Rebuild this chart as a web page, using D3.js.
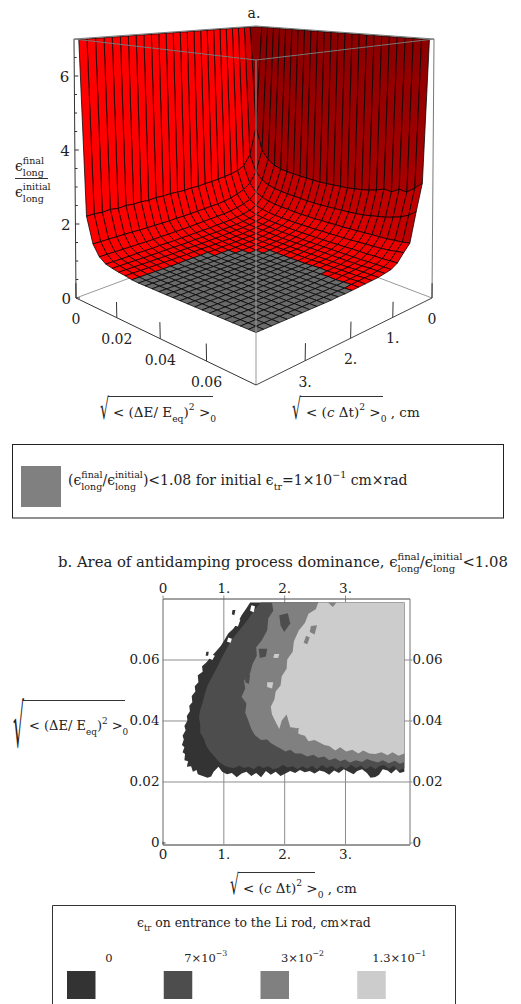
<!DOCTYPE html>
<html>
<head>
<meta charset="utf-8">
<script src="https://cdn.jsdelivr.net/npm/d3@7"></script>
<style>
  html, body { margin: 0; padding: 0; background: #fff; overflow: hidden; }
  svg { display: block; }
  text { font-family: "DejaVu Serif", serif; fill: #222; white-space: pre; }
</style>
</head>
<body>
<div id="chart"></div>
<script>
// ----- panel a: surface heights on the ct / dE mesh -----
const ctGrid = [0.135,0.29,0.445,0.6,0.755,0.91,1.065,1.22,1.375,1.53,1.685,1.84,1.995,2.15,2.305,2.46,2.615,2.77,2.925,3.08,3.235,3.39,3.545,3.7,3.855,4];
const dEGrid = [0.0027,0.0058,0.0089,0.012,0.0151,0.0182,0.0213,0.0244,0.0275,0.0306,0.0337,0.0368,0.0399,0.043,0.0461,0.0492,0.0523,0.0554,0.0585,0.0616,0.0647,0.0678,0.0709,0.074,0.0771,0.08];
const ratioRows = [
  [7,7,7,7,7,7,7,7,7,7,7,7,7,7,7,7,7,7,7,7,7,7,7,7,7,7],
  [7,3.7,3,2.75,2.62,2.56,2.53,2.52,2.5,2.5,2.49,2.49,2.5,2.51,2.53,2.54,2.57,2.6,2.64,2.7,2.78,2.76,2.88,2.86,3.02,3.2],
  [7,2.85,2.35,2.15,2.05,2,1.97,1.95,1.94,1.93,1.92,1.92,1.92,1.93,1.94,1.95,1.96,1.98,2,2.04,2.08,2.12,2.18,2.25,2.35,2.5],
  [7,2.55,2.05,1.82,1.72,1.66,1.63,1.61,1.6,1.59,1.58,1.58,1.58,1.59,1.59,1.6,1.6,1.61,1.62,1.63,1.64,1.65,1.66,1.68,1.7,1.73],
  [7,2.45,1.9,1.65,1.53,1.47,1.44,1.42,1.41,1.4,1.4,1.4,1.4,1.4,1.41,1.41,1.42,1.42,1.43,1.44,1.45,1.46,1.47,1.49,1.52,1.55],
  [7,2.4,1.82,1.57,1.44,1.38,1.35,1.33,1.32,1.31,1.3,1.3,1.3,1.3,1.3,1.3,1.3,1.31,1.31,1.32,1.32,1.32,1.33,1.33,1.34,1.35],
  [7,2.37,1.76,1.52,1.39,1.33,1.3,1.28,1.27,1.26,1.25,1.25,1.25,1.24,1.24,1.24,1.24,1.24,1.24,1.24,1.24,1.24,1.25,1.25,1.25,1.25],
  [7,2.35,1.72,1.48,1.36,1.3,1.27,1.25,1.24,1.23,1.22,1.21,1.21,1.21,1.21,1.21,1.21,1.21,1.21,1.21,1.21,1.21,1.21,1.22,1.22,1.22],
  [7,2.33,1.7,1.46,1.34,1.28,1.25,1.23,1.21,1.2,1.19,1.19,1.19,1.18,1.18,1.18,1.18,1.18,1.18,1.18,1.18,1.18,1.19,1.19,1.19,1.19],
  [7,2.32,1.69,1.45,1.33,1.27,1.24,1.21,1.2,1.19,1.18,1.17,1.17,1.17,1.17,1.16,1.16,1.16,1.17,1.17,1.17,1.17,1.17,1.17,1.18,1.18],
  [7,2.3,1.68,1.44,1.32,1.26,1.23,1.2,1.19,1.18,1.17,1.16,1.15,1.14,1.14,1.14,1.14,1.14,1.15,1.16,1.15,1.16,1.17,1.16,1.17,1.17],
  [7,2.31,1.67,1.43,1.31,1.25,1.22,1.19,1.18,1.17,1.16,1.15,1.14,1.14,1.14,1.13,1.14,1.13,1.14,1.14,1.14,1.15,1.14,1.15,1.16,1.16],
  [7,2.29,1.66,1.42,1.3,1.25,1.21,1.19,1.17,1.16,1.15,1.14,1.14,1.13,1.13,1.13,1.13,1.13,1.13,1.14,1.13,1.14,1.13,1.14,1.14,1.15],
  [7,2.3,1.65,1.41,1.3,1.24,1.21,1.18,1.17,1.15,1.14,1.14,1.13,1.13,1.13,1.13,1.13,1.13,1.13,1.13,1.13,1.13,1.13,1.13,1.14,1.14],
  [7,2.31,1.65,1.4,1.29,1.24,1.2,1.18,1.16,1.15,1.14,1.13,1.13,1.13,1.13,1.13,1.13,1.13,1.13,1.13,1.13,1.13,1.13,1.13,1.13,1.14],
  [7,2.3,1.64,1.4,1.29,1.23,1.2,1.18,1.16,1.14,1.13,1.13,1.13,1.13,1.13,1.13,1.13,1.13,1.13,1.13,1.13,1.13,1.13,1.13,1.13,1.13],
  [7,2.31,1.64,1.39,1.28,1.23,1.2,1.18,1.15,1.14,1.13,1.13,1.13,1.13,1.13,1.13,1.13,1.13,1.13,1.13,1.13,1.13,1.13,1.13,1.13,1.13],
  [7,2.29,1.64,1.39,1.28,1.23,1.2,1.17,1.15,1.13,1.13,1.13,1.13,1.13,1.13,1.13,1.13,1.13,1.13,1.13,1.13,1.13,1.13,1.13,1.13,1.13],
  [7,2.31,1.64,1.38,1.28,1.23,1.19,1.17,1.15,1.13,1.13,1.13,1.13,1.13,1.13,1.13,1.13,1.13,1.13,1.13,1.13,1.13,1.13,1.13,1.13,1.13],
  [7,2.3,1.64,1.38,1.27,1.22,1.19,1.17,1.14,1.13,1.13,1.13,1.13,1.13,1.13,1.13,1.13,1.13,1.13,1.13,1.13,1.13,1.13,1.13,1.13,1.13],
  [7,2.32,1.65,1.38,1.27,1.22,1.19,1.17,1.14,1.13,1.13,1.13,1.13,1.13,1.13,1.13,1.13,1.13,1.13,1.13,1.13,1.13,1.13,1.13,1.13,1.13],
  [7,2.3,1.65,1.38,1.27,1.22,1.19,1.17,1.14,1.13,1.13,1.13,1.13,1.13,1.13,1.13,1.13,1.13,1.13,1.13,1.13,1.13,1.13,1.13,1.13,1.13],
  [7,2.33,1.65,1.38,1.26,1.22,1.19,1.17,1.14,1.13,1.13,1.13,1.13,1.13,1.13,1.13,1.13,1.13,1.13,1.13,1.13,1.13,1.13,1.13,1.13,1.13],
  [7,2.31,1.65,1.38,1.26,1.22,1.19,1.17,1.14,1.13,1.13,1.13,1.13,1.13,1.13,1.13,1.13,1.13,1.13,1.13,1.13,1.13,1.13,1.13,1.13,1.13],
  [7,2.33,1.65,1.38,1.26,1.22,1.19,1.17,1.14,1.13,1.13,1.13,1.13,1.13,1.13,1.13,1.13,1.13,1.13,1.13,1.13,1.13,1.13,1.13,1.13,1.13],
  [7,2.32,1.65,1.38,1.26,1.22,1.19,1.17,1.14,1.13,1.13,1.13,1.13,1.13,1.13,1.13,1.13,1.13,1.13,1.13,1.13,1.13,1.13,1.13,1.13,1.13]
];
const greyBelow = 1.15;
const zTicks = [0,0.5,1,1.5,2,2.5,3,3.5,4,4.5,5,5.5,6,6.5];
const zLabels = [0,2,4,6];
const dETicks3d = [0,0.02,0.04,0.06];
const ctTicks3d = [0,1,2,3];

// ----- panel b: outlines of the areas, [ct, dE], one per emittance -----
const area0 = [[1.44,0.0787],[3.975,0.0787],[3.975,0.0232],[3.9,0.0228],[3.84,0.024],[3.76,0.0226],[3.7,0.0236],[3.62,0.024],[3.56,0.0222],[3.5,0.0215],[3.42,0.0212],[3.36,0.0228],[3.28,0.024],[3.2,0.0234],[3.14,0.0224],[3.06,0.0232],[2.98,0.024],[2.9,0.0228],[2.82,0.0236],[2.74,0.0222],[2.66,0.0232],[2.58,0.0236],[2.5,0.0226],[2.42,0.0234],[2.34,0.023],[2.26,0.0238],[2.18,0.0228],[2.1,0.0234],[2.02,0.0226],[1.94,0.0218],[1.86,0.0232],[1.78,0.0222],[1.7,0.0234],[1.62,0.0214],[1.54,0.0228],[1.46,0.0218],[1.38,0.0232],[1.3,0.0226],[1.22,0.0214],[1.14,0.0228],[1.06,0.0224],[0.98,0.0232],[0.92,0.0248],[0.84,0.0232],[0.8,0.0216],[0.74,0.0212],[0.66,0.0218],[0.58,0.0224],[0.56,0.0238],[0.5,0.0232],[0.47,0.025],[0.4,0.0248],[0.42,0.0266],[0.36,0.027],[0.37,0.029],[0.33,0.0296],[0.36,0.0312],[0.32,0.032],[0.35,0.0338],[0.33,0.035],[0.38,0.0368],[0.36,0.0382],[0.41,0.04],[0.4,0.0415],[0.45,0.043],[0.44,0.0448],[0.49,0.046],[0.48,0.048],[0.54,0.0495],[0.53,0.0512],[0.59,0.0525],[0.58,0.0548],[0.66,0.056],[0.65,0.0578],[0.72,0.059],[0.78,0.0605],[0.86,0.0622],[0.96,0.0645],[1.02,0.0665],[1.08,0.0685],[1.16,0.07],[1.24,0.0722],[1.3,0.0745],[1.38,0.0768]];
const area1 = [[1.62,0.0787],[3.975,0.0787],[3.975,0.0244],[3.88,0.0236],[3.8,0.0252],[3.72,0.0242],[3.64,0.0254],[3.56,0.025],[3.5,0.024],[3.42,0.025],[3.34,0.024],[3.26,0.0252],[3.18,0.0244],[3.1,0.0254],[3.02,0.0242],[2.94,0.025],[2.86,0.024],[2.78,0.0252],[2.7,0.0244],[2.62,0.0254],[2.54,0.024],[2.46,0.0252],[2.38,0.0242],[2.3,0.025],[2.22,0.024],[2.14,0.025],[2.06,0.0246],[1.98,0.0254],[1.9,0.0244],[1.82,0.024],[1.74,0.025],[1.66,0.0244],[1.58,0.0252],[1.5,0.024],[1.42,0.0248],[1.34,0.0244],[1.26,0.0252],[1.18,0.0244],[1.1,0.0246],[1.02,0.0252],[0.94,0.0262],[0.86,0.028],[0.78,0.0298],[0.72,0.0316],[0.68,0.034],[0.62,0.036],[0.62,0.0385],[0.6,0.041],[0.62,0.0435],[0.66,0.046],[0.7,0.049],[0.74,0.0515],[0.82,0.0545],[0.9,0.0575],[0.96,0.06],[1.04,0.063],[1.12,0.066],[1.2,0.068],[1.32,0.071],[1.42,0.0735],[1.5,0.076]];
const area2 = [[1.8,0.0787],[3.975,0.0787],[3.975,0.0264],[3.9,0.0258],[3.82,0.0268],[3.72,0.026],[3.62,0.027],[3.54,0.0262],[3.44,0.0268],[3.36,0.0274],[3.28,0.0264],[3.18,0.027],[3.08,0.0262],[3,0.0272],[2.92,0.0266],[2.84,0.0276],[2.74,0.027],[2.66,0.0282],[2.56,0.0278],[2.48,0.0288],[2.38,0.0282],[2.28,0.0292],[2.18,0.0292],[2.1,0.0304],[2.02,0.0298],[1.94,0.0308],[1.86,0.0316],[1.78,0.0326],[1.72,0.0338],[1.62,0.0336],[1.52,0.0352],[1.46,0.0372],[1.41,0.04],[1.36,0.0425],[1.38,0.0456],[1.3,0.0478],[1.36,0.0505],[1.34,0.053],[1.44,0.0555],[1.48,0.0585],[1.55,0.0612],[1.54,0.064],[1.63,0.0662],[1.72,0.0695],[1.74,0.0735],[1.82,0.076]];
const area3 = [[2.56,0.0787],[3.975,0.0787],[3.975,0.0292],[3.88,0.0284],[3.78,0.0296],[3.7,0.0286],[3.6,0.0296],[3.5,0.029],[3.4,0.0292],[3.3,0.0302],[3.22,0.0292],[3.12,0.0304],[3.02,0.0298],[2.92,0.0312],[2.84,0.0302],[2.74,0.0316],[2.66,0.032],[2.58,0.0328],[2.5,0.0336],[2.4,0.0332],[2.34,0.035],[2.24,0.0356],[2.18,0.0376],[2.1,0.0378],[2.04,0.042],[1.96,0.04],[1.92,0.0372],[1.86,0.0395],[1.8,0.042],[1.78,0.0445],[1.84,0.047],[1.86,0.0495],[1.94,0.0515],[1.96,0.0545],[2.04,0.057],[2.05,0.06],[2.14,0.0625],[2.16,0.066],[2.24,0.0695],[2.34,0.072],[2.4,0.075],[2.52,0.0765]];
// little islands inside the areas, level is an index into areaColors (-1 is white)
const islands = [
  {level:-1, pts:[[1.46,0.0778],[1.52,0.0775],[1.5,0.0755],[1.44,0.076]]},
  {level:-1, pts:[[1.2,0.0735],[1.28,0.073],[1.24,0.0708],[1.16,0.0712]]},
  {level:-1, pts:[[1.08,0.0672],[1.14,0.0668],[1.12,0.0655],[1.06,0.0658]]},
  {level:-1, pts:[[0.78,0.062],[0.86,0.0612],[0.82,0.0598],[0.76,0.0604]]},
  {level:0, pts:[[1.15,0.0762],[1.2,0.0762],[1.18,0.0745],[1.14,0.0748]]},
  {level:0, pts:[[0.72,0.0625],[0.76,0.0625],[0.75,0.0612],[0.71,0.0612]]},
  {level:1, pts:[[1.92,0.0745],[2.06,0.0752],[2.1,0.0718],[2,0.069],[1.94,0.0712]]},
  {level:1, pts:[[1.58,0.0635],[1.72,0.0635],[1.7,0.061],[1.6,0.0605]]},
  {level:1, pts:[[1.36,0.0555],[1.44,0.055],[1.42,0.052],[1.36,0.0525]]},
  {level:2, pts:[[2.44,0.071],[2.54,0.0712],[2.5,0.0682],[2.42,0.069]]},
  {level:2, pts:[[2.36,0.0678],[2.42,0.0672],[2.38,0.065],[2.32,0.0655]]},
  {level:2, pts:[[2.72,0.0787],[2.86,0.0787],[2.8,0.0772]]},
  {level:3, pts:[[1.84,0.0618],[1.92,0.0618],[1.9,0.0605],[1.82,0.0606]]},
  {level:3, pts:[[1.72,0.0525],[1.82,0.0525],[1.8,0.0505],[1.72,0.051]]},
  {level:2, pts:[[2.14,0.0372],[2.24,0.0376],[2.22,0.0342],[2.14,0.0336]]}
];
const areaColors = ["#333333","#4d4d4d","#808080","#cccccc"];
const ctTicks2d = [0,1,2,3];
const dETicks2d = [0,0.02,0.04,0.06];
const legendLabels = ["0","7×10","3×10","1.3×10"];
const legendPowers = ["","−3","−2","−1"];

const width = 521, height = 1004;
const svg = d3.select("#chart").append("svg").attr("width", width).attr("height", height);
const defs = svg.append("defs");

// draws a row of plain, raised and stacked text runs, returns the width used
function mathText(parent, x, y, runs, size, anchor) {
  const g = parent.append("g");
  let cx = 0;
  const put = function (s, px, py, fs, italic) {
    const t = g.append("text").attr("x", px).attr("y", py).style("font-size", fs + "px").text(s);
    if (italic) t.style("font-style", "italic");
    return t.node().getComputedTextLength();
  };
  runs.forEach(function (r) {
    if (r.t !== undefined) cx += put(r.t, cx, 0, size, r.i);
    if (r.sup !== undefined || r.sub !== undefined) {
      let w = 0;
      if (r.sup !== undefined) w = Math.max(w, put(r.sup, cx, -size * 0.5, size * 0.68));
      if (r.sub !== undefined) w = Math.max(w, put(r.sub, cx, size * 0.36, size * 0.68));
      cx += w;
    }
  });
  const left = anchor === "middle" ? x - cx / 2 : x;
  g.attr("transform", "translate(" + left + "," + y + ")");
  return cx;
}

// radical sign squeezed to fit, its top right meets the bar
function rootBar(parent, xTop, yTop, h, w, xEnd) {
  const s = h / 0.83;
  const sx = w / (0.637 * s);
  parent.append("text")
    .attr("transform", "translate(" + (xTop - w + 0.5) + "," + (yTop + 0.78 * s) + ") scale(" + sx + ",1)")
    .style("font-size", s + "px").style("font-family", "DejaVu Sans").text("√");
  parent.append("line").attr("x1", xTop).attr("x2", xEnd).attr("y1", yTop).attr("y2", yTop).attr("stroke", "#333");
}

// ----- panel a -----
function quadMap(p) {
  // unit square to quad: p[0]=(0,0) p[1]=(1,0) p[2]=(1,1) p[3]=(0,1)
  const dx1 = p[1][0] - p[2][0], dx2 = p[3][0] - p[2][0], sx = p[0][0] - p[1][0] + p[2][0] - p[3][0];
  const dy1 = p[1][1] - p[2][1], dy2 = p[3][1] - p[2][1], sy = p[0][1] - p[1][1] + p[2][1] - p[3][1];
  const det = dx1 * dy2 - dx2 * dy1;
  const g = (sx * dy2 - dx2 * sy) / det, h = (dx1 * sy - sx * dy1) / det;
  const a = p[1][0] - p[0][0] + g * p[1][0], b = p[3][0] - p[0][0] + h * p[3][0], c = p[0][0];
  const d = p[1][1] - p[0][1] + g * p[1][1], e = p[3][1] - p[0][1] + h * p[3][1], f = p[0][1];
  return function (u, v) {
    const w = g * u + h * v + 1;
    return [(a * u + b * v + c) / w, (d * u + e * v + f) / w];
  };
}

const floorMap = quadMap([[256,231],[76,298],[256,385],[432,298]]);
const roofMap = quadMap([[256,26],[74,39],[256,60],[434,39]]);
const uScale = d3.scaleLinear().domain([0,4]).range([0,1]);
const vScale = d3.scaleLinear().domain([0,0.08]).range([0,1]);
const wScale = d3.scaleLinear().domain([0,7]).range([0,1]);

function project(ct, dE, z) {
  const a = floorMap(uScale(ct), vScale(dE)), b = roofMap(uScale(ct), vScale(dE)), w = wScale(z);
  return [a[0] + (b[0] - a[0]) * w, a[1] + (b[1] - a[1]) * w];
}

const boxLine = d3.line();
const a3d = svg.append("g");

// back of the box
[[[0,0,0],[4,0,0]], [[0,0,0],[0,0.08,0]]].forEach(function (e) {
  a3d.append("path").attr("d", boxLine(e.map(function (q) { return project(q[0], q[1], q[2]); })))
    .attr("stroke", "#999").attr("fill", "none");
});

// right wall runs from near black red at the top down to the strong red
const wallGrad = defs.append("linearGradient").attr("id", "wallGrad")
  .attr("gradientUnits", "userSpaceOnUse").attr("x1", 0).attr("x2", 0).attr("y1", 30).attr("y2", 190);
wallGrad.append("stop").attr("offset", 0).attr("stop-color", "#8a0000");
wallGrad.append("stop").attr("offset", 1).attr("stop-color", "#a80000");

const redLevel = d3.scaleLinear().domain([0,0.1,0.3,0.6,1.5,4.5]).range([255,245,222,195,165,139]).clamp(true);
const cells = [];
d3.range(ctGrid.length - 1).forEach(function (i) {
  d3.range(dEGrid.length - 1).forEach(function (j) {
    cells.push({i: i, j: j});
  });
});
cells.sort(function (a, b) { return (a.i + a.j) - (b.i + b.j); });

a3d.append("g").selectAll("path").data(cells).enter().append("path")
  .attr("d", function (c) {
    const i = c.i, j = c.j;
    return boxLine([
      project(ctGrid[i], dEGrid[j], ratioRows[i][j]),
      project(ctGrid[i + 1], dEGrid[j], ratioRows[i + 1][j]),
      project(ctGrid[i + 1], dEGrid[j + 1], ratioRows[i + 1][j + 1]),
      project(ctGrid[i], dEGrid[j + 1], ratioRows[i][j + 1])
    ]) + "Z";
  })
  .attr("fill", function (c) {
    const i = c.i, j = c.j;
    const mean = (ratioRows[i][j] + ratioRows[i + 1][j] + ratioRows[i + 1][j + 1] + ratioRows[i][j + 1]) / 4;
    if (mean < greyBelow) return "#6a6a6a";
    if (i === 0) return "url(#wallGrad)";
    const drop = (ratioRows[i][j] + ratioRows[i][j + 1] - ratioRows[i + 1][j] - ratioRows[i + 1][j + 1]) / 2;
    return d3.rgb(redLevel(drop), 0, 0).formatHex();
  })
  .attr("stroke", "#000").attr("stroke-width", 0.75).attr("stroke-linejoin", "round");

// front of the box over the surface
const boxEdges = [
  {e: [[4,0,0],[4,0,7]], c: "#333"},
  {e: [[0,0.08,0],[0,0.08,7]], c: "#777"},
  {e: [[4,0.08,0],[4,0.08,7]], c: "#999"},
  {e: [[4,0,7],[4,0.08,7]], c: "#777"},
  {e: [[0,0.08,7],[4,0.08,7]], c: "#777"},
  {e: [[4,0,7],[0,0,7]], c: "#777"},
  {e: [[0,0,7],[0,0.08,7]], c: "#777"},
  {e: [[4,0,0],[4,0.08,0]], c: "#333"},
  {e: [[0,0.08,0],[4,0.08,0]], c: "#444"}
];
boxEdges.forEach(function (b) {
  a3d.append("path").attr("d", boxLine(b.e.map(function (q) { return project(q[0], q[1], q[2]); })))
    .attr("stroke", b.c).attr("fill", "none");
});

// ticks stand up from the floor edges
dETicks3d.forEach(function (t) {
  const p0 = project(4, t, 0), p1 = project(4, t, 0.4);
  a3d.append("path").attr("d", boxLine([p0, p1])).attr("stroke", "#333").attr("fill", "none");
  a3d.append("text").attr("x", p0[0]).attr("y", p0[1] + 26).attr("text-anchor", "middle")
    .style("font-size", "14px").text(t === 0 ? "0" : t.toFixed(2));
});
ctTicks3d.forEach(function (t) {
  const p0 = project(t, 0.08, 0), p1 = project(t, 0.08, 0.4);
  a3d.append("path").attr("d", boxLine([p0, p1])).attr("stroke", "#333").attr("fill", "none");
  a3d.append("text").attr("x", p0[0]).attr("y", p0[1] + 26).attr("text-anchor", "middle")
    .style("font-size", "14px").text(t === 0 ? "0" : t + ".");
});
zTicks.forEach(function (t) {
  const p0 = project(4, 0, t);
  const major = zLabels.indexOf(t) >= 0;
  a3d.append("path").attr("d", boxLine([p0, [p0[0] + (major ? 4 : 2.5), p0[1]]])).attr("stroke", "#333").attr("fill", "none");
  if (major) {
    a3d.append("text").attr("x", p0[0] - 5).attr("y", p0[1] + 6).attr("text-anchor", "end")
      .style("font-size", "15px").text(t);
  }
});

a3d.append("text").attr("x", 254).attr("y", 18).attr("text-anchor", "middle").style("font-size", "14px").text("a.");

// z axis fraction
mathText(a3d, 15, 171, [{t: "ϵ"}, {sup: "final", sub: "long"}], 14);
a3d.append("line").attr("x1", 15).attr("x2", 48).attr("y1", 178.5).attr("y2", 178.5).attr("stroke", "#333");
mathText(a3d, 15, 197, [{t: "ϵ"}, {sup: "initial", sub: "long"}], 14);

// floor axis labels
const dELabelRuns = [{t: "< (ΔE/ E"}, {sub: "eq"}, {t: ")"}, {sup: "2"}, {t: " >"}, {sub: "0"}];
const ctLabelRuns = [{t: "< ("}, {t: "c", i: true}, {t: " Δt)"}, {sup: "2"}, {t: " >"}, {sub: "0"}, {t: " , cm"}];
rootBar(a3d, 108.5, 396.5, 24, 9, 213);
mathText(a3d, 113, 417, dELabelRuns, 13.5);
rootBar(a3d, 300.5, 396.5, 24, 9, 383);
mathText(a3d, 306, 417, ctLabelRuns, 13.5);

// legend of panel a
const legendA = svg.append("g");
legendA.append("rect").attr("x", 12.5).attr("y", 444.5).attr("width", 491).attr("height", 73.5).attr("fill", "none").attr("stroke", "#222");
legendA.append("rect").attr("x", 21).attr("y", 466).attr("width", 40).attr("height", 41).attr("fill", "#808080");
mathText(legendA, 68, 485, [
  {t: "("}, {t: "ϵ"}, {sup: "final", sub: "long"}, {t: "/"}, {t: "ϵ"}, {sup: "initial", sub: "long"},
  {t: ")<1.08 for initial ϵ"}, {sub: "tr"}, {t: "=1×10"}, {sup: "−1"}, {t: " cm×rad"}
], 14);

// ----- panel b -----
const plot = {left: 162.5, right: 409.5, top: 598.5, bottom: 844.5};
const xScale = d3.scaleLinear().domain([0,4.06]).range([plot.left, plot.right]);
const yScale = d3.scaleLinear().domain([-0.00066,0.08]).range([plot.bottom, plot.top]);
const b2d = svg.append("g");

mathText(b2d, 58, 567, [
  {t: "b. Area of antidamping process dominance, "}, {t: "ϵ"}, {sup: "final", sub: "long"}, {t: "/"},
  {t: "ϵ"}, {sup: "initial", sub: "long"}, {t: "<1.08"}
], 14.8);

const gridH = plot.bottom - plot.top, gridW = plot.right - plot.left;
const fmtCt = function (d) { return d === 0 ? "0" : d + "."; };
const fmtDE = function (d) { return d === 0 ? "0" : d.toFixed(2); };
const gAxes = b2d.append("g");
const axBottom = gAxes.append("g").attr("transform", "translate(0," + plot.bottom + ")")
  .call(d3.axisBottom(xScale).tickValues(ctTicks2d).tickFormat(fmtCt).tickSizeInner(-gridH).tickSizeOuter(0).tickPadding(5));
const axTop = gAxes.append("g").attr("transform", "translate(0," + plot.top + ")")
  .call(d3.axisTop(xScale).tickValues(ctTicks2d).tickFormat(fmtCt).tickSizeInner(3).tickSizeOuter(0).tickPadding(3));
const axLeft = gAxes.append("g").attr("transform", "translate(" + plot.left + ",0)")
  .call(d3.axisLeft(yScale).tickValues(dETicks2d).tickFormat(fmtDE).tickSizeInner(-gridW).tickSizeOuter(0).tickPadding(3));
const axRight = gAxes.append("g").attr("transform", "translate(" + plot.right + ",0)")
  .call(d3.axisRight(yScale).tickValues(dETicks2d).tickFormat(fmtDE).tickSizeInner(3).tickSizeOuter(0).tickPadding(0));
gAxes.selectAll("text").style("font-size", "13.5px").style("font-family", "DejaVu Serif").attr("fill", "#222");
gAxes.selectAll("line").attr("stroke", "#8c8c8c");
// the zero gridlines are only stubs on the frame
axBottom.selectAll(".tick line").filter(function (d) { return d === 0; }).attr("y2", -3);
axLeft.selectAll(".tick line").filter(function (d) { return d === 0; }).attr("x2", 3).attr("stroke", "#444");
axBottom.select("path.domain").attr("stroke", "#333");
axTop.select("path.domain").attr("stroke", "#444");
axLeft.select("path.domain").attr("stroke", "#666");
axRight.select("path.domain").attr("stroke", "#777");

const areaPath = d3.line().x(function (d) { return xScale(d[0]); }).y(function (d) { return yScale(d[1]); });
const areas = b2d.append("g");
[area0, area1, area2, area3].forEach(function (pts, k) {
  areas.append("path").attr("d", areaPath(pts) + "Z").attr("fill", areaColors[k]);
});
areas.selectAll("path.island").data(islands).enter().append("path").attr("class", "island")
  .attr("d", function (d) { return areaPath(d.pts) + "Z"; })
  .attr("fill", function (d) { return d.level < 0 ? "#fff" : areaColors[d.level]; });

rootBar(b2d, 23.5, 700.5, 50, 11, 125);
mathText(b2d, 29, 730, dELabelRuns, 13);
rootBar(b2d, 238.5, 872.5, 23, 9, 315);
mathText(b2d, 243, 893, ctLabelRuns, 13.5);

// legend of panel b, its lower edge is off the page
const legendB = svg.append("g");
legendB.append("path").attr("d", "M52.5,1010V905.5H455.5V1010").attr("fill", "none").attr("stroke", "#333");
mathText(legendB, 137, 927, [{t: "ϵ"}, {sub: "tr"}, {t: " on entrance to the Li rod, cm×rad"}], 12.4);
const legendX = d3.scaleBand().domain(d3.range(4)).range([67, 454]).paddingInner(0);
legendLabels.forEach(function (lab, k) {
  const sx = legendX(k);
  legendB.append("rect").attr("x", sx).attr("y", 971).attr("width", 28.5).attr("height", 28).attr("fill", areaColors[k]);
  const runs = legendPowers[k] ? [{t: lab}, {sup: legendPowers[k]}] : [{t: lab}];
  mathText(legendB, sx + 42, 962, runs, 11.5, "middle");
});
</script>
</body>
</html>
